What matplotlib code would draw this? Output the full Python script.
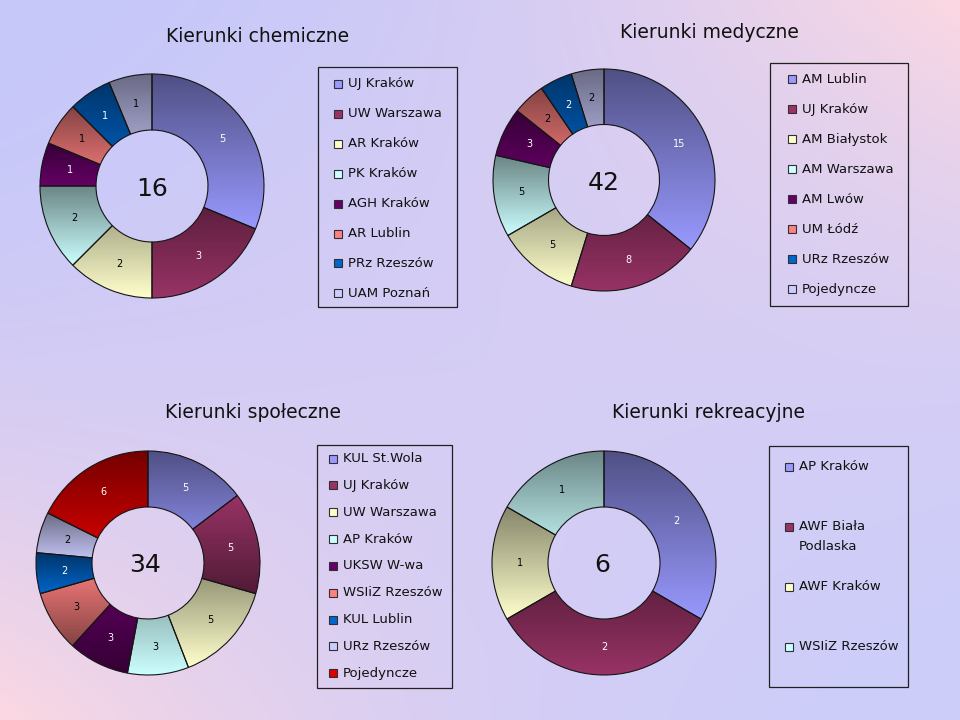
import numpy as np
import matplotlib
matplotlib.use("Agg")
import matplotlib.pyplot as plt
from matplotlib.patches import Rectangle
from matplotlib.colors import to_rgb

# ---------------- data ----------------
chem_title = "Kierunki chemiczne"
chem_labels = ["UJ Kraków", "UW Warszawa", "AR Kraków", "PK Kraków", "AGH Kraków",
               "AR Lublin", "PRz Rzeszów", "UAM Poznań"]
chem_values = [5, 3, 2, 2, 1, 1, 1, 1]

med_title = "Kierunki medyczne"
med_labels = ["AM Lublin", "UJ Kraków", "AM Białystok", "AM Warszawa", "AM Lwów",
              "UM Łódź", "URz Rzeszów", "Pojedyncze"]
med_values = [15, 8, 5, 5, 3, 2, 2, 2]

soc_title = "Kierunki społeczne"
soc_labels = ["KUL St.Wola", "UJ Kraków", "UW Warszawa", "AP Kraków", "UKSW W-wa",
              "WSIiZ Rzeszów", "KUL Lublin", "URz Rzeszów", "Pojedyncze"]
soc_values = [5, 5, 5, 3, 3, 3, 2, 2, 6]

rec_title = "Kierunki rekreacyjne"
rec_labels = ["AP Kraków", "AWF Biała\nPodlaska", "AWF Kraków", "WSIiZ Rzeszów"]
rec_values = [2, 2, 1, 1]

# ---------------- style ----------------
palette = ["#9999FF", "#993366", "#FFFFCC", "#CCFFFF", "#660066",
           "#FF8080", "#0066CC", "#CCCCFF", "#E00000"]
label_colors = ["white", "white", "black", "black", "white",
                "black", "white", "black", "white"]
FONT = "DejaVu Sans"
plt.rcParams["font.family"] = [FONT]

W, H = 960, 720
fig = plt.figure(figsize=(W / 100, H / 100), dpi=100)

# background gradient
ax_bg = fig.add_axes([0, 0, 1, 1])
ax_bg.set_xlim(0, W)
ax_bg.set_ylim(H, 0)
ax_bg.axis("off")
u = np.linspace(0, 1, 200)[None, :]
v = np.linspace(0, 1, 150)[:, None]
t = (u * (1 - v) + (1 - u) * v) ** 2
lav_tl = np.array([198, 200, 250]) / 255
lav_br = np.array([206, 206, 250]) / 255
pink = np.array([252, 216, 226]) / 255
uv = (u * v)[..., None]
lav = lav_tl * (1 - uv) + lav_br * uv
bg = lav * (1 - t[..., None]) + pink * t[..., None]
ax_bg.imshow(bg, extent=[0, W, H, 0], aspect="auto", interpolation="bilinear", zorder=0)

LIM = 1.04


def donut(cx, cy, r, values, total_offset, reverse=()):
    ax = fig.add_axes([(cx - r * LIM) / W, 1 - (cy + r * LIM) / H,
                       2 * r * LIM / W, 2 * r * LIM / H])
    wedges, _ = ax.pie(values, startangle=90, counterclock=False, radius=1,
                       colors=palette[:len(values)],
                       wedgeprops=dict(width=0.5, edgecolor="#151515",
                                       linewidth=0.8, facecolor="none", zorder=3))
    for i, w in enumerate(wedges):
        c = np.array(to_rgb(palette[i]))
        d = c * 0.52
        verts = w.get_patch_transform().transform(w.get_path().vertices)
        x0, y0 = verts.min(0)
        x1, y1 = verts.max(0)
        tt = np.linspace(0, 1, 256)[:, None]
        top, bot = (c, d) if i in reverse else (d, c)
        arr = (top * (1 - tt) + bot * tt)[:, None, :]
        im = ax.imshow(arr, extent=[x0, x1, y0, y1], origin="upper",
                       aspect="auto", interpolation="bilinear", zorder=1)
        im.set_clip_path(w)
        ang = np.deg2rad((w.theta1 + w.theta2) / 2)
        ax.text(0.75 * np.cos(ang), 0.75 * np.sin(ang), str(values[i]),
                ha="center", va="center", fontsize=7, color=label_colors[i], zorder=4)
    ax.text(total_offset[0], total_offset[1], str(sum(values)), ha="center",
            va="center", fontsize=18, color="#111111", zorder=4)
    ax.set_xlim(-LIM, LIM)
    ax.set_ylim(-LIM, LIM)
    ax.set_aspect("equal")
    ax.axis("off")
    ax.patch.set_visible(False)
    return ax


def legend(box, mx, ys, labels, line_step=19):
    x0, y0, x1, y1 = box
    ax_bg.add_patch(Rectangle((x0, y0), x1 - x0, y1 - y0, facecolor="none",
                              edgecolor="#202020", linewidth=0.9, zorder=2))
    tx = mx + 14
    for i, (y, lab) in enumerate(zip(ys, labels)):
        ax_bg.add_patch(Rectangle((mx, y - 4), 8, 8, facecolor=palette[i],
                                  edgecolor="#303030", linewidth=0.8, zorder=3))
        for k, line in enumerate(lab.split("\n")):
            ax_bg.text(tx, y + k * line_step, line, ha="left", va="center",
                       fontsize=9.5, color="#111111", zorder=3)


def title(x, y, s):
    ax_bg.text(x, y, s, ha="center", va="center", fontsize=13.5, color="#111111", zorder=3)


# chemistry
title(257.5, 37, chem_title)
donut(152, 186, 112, chem_values, (0, -0.03))
legend((318, 67, 457, 307), 334, [84 + i * 29.9 for i in range(len(chem_labels))], chem_labels)

# medicine
title(709.5, 32, med_title)
donut(604, 180, 111, med_values, (0, -0.025))
legend((770, 63, 908, 306), 788, [79.3 + i * 30 for i in range(len(med_labels))], med_labels)

# social
title(253, 412, soc_title)
donut(148, 563, 112, soc_values, (-0.03, -0.015), reverse=(1, 4, 5))
legend((317, 445, 452, 688), 329, [458.5 + i * 26.85 for i in range(len(soc_labels))], soc_labels)

# recreation
title(708.5, 413, rec_title)
donut(604, 563, 112, rec_values, (-0.02, -0.015))
legend((769, 446, 908, 687), 785, [467 + i * 60 for i in range(len(rec_labels))], rec_labels)

fig.savefig("out.png", dpi=100)
